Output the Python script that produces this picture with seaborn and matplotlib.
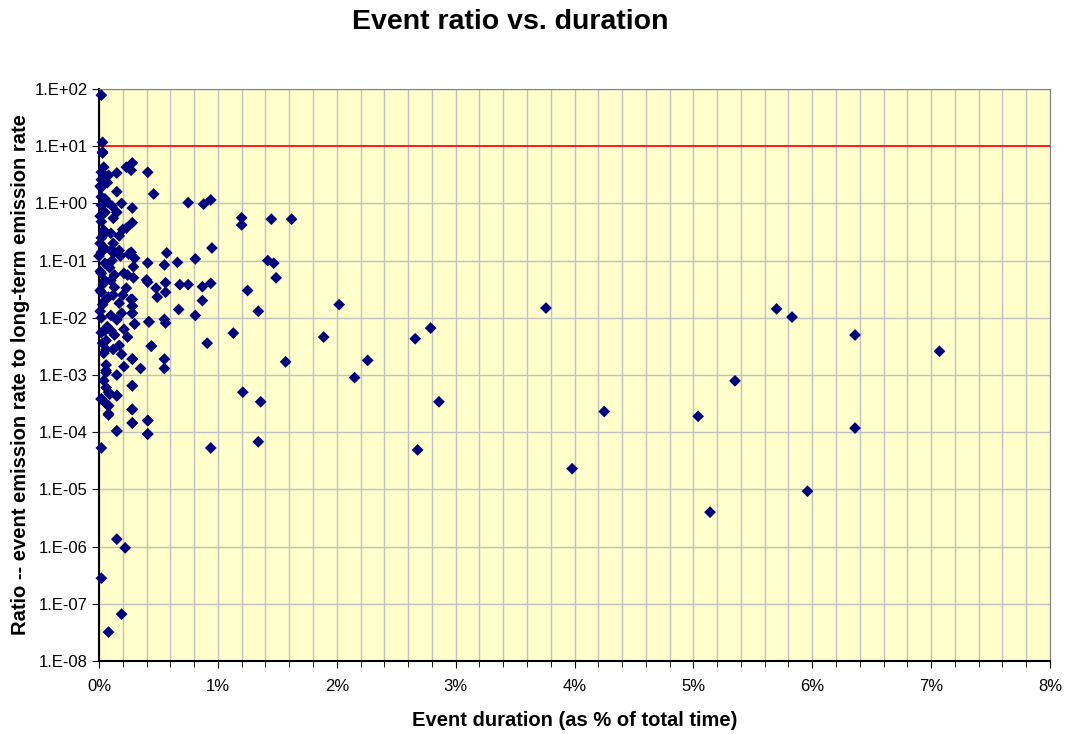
import numpy as np
import pandas as pd
import seaborn as sns
import matplotlib.pyplot as plt
from matplotlib.ticker import FixedLocator, FuncFormatter, MultipleLocator

# Event duration (% of total time) and ratio of event to long-term emission rate
duration_pct = [
    # top outliers
    0.02, 0.03, 0.03, 0.03,
    # dense cluster near zero
    0.28, 0.23, 0.27, 0.04, 0.02, 0.08, 0.15, 0.02, 0.07, 0.02, 0.15, 0.02,
    0.07, 0.02, 0.28, 0.15, 0.04, 0.02, 0.28, 0.23, 0.17, 0.04, 0.02, 0.04,
    0.02, 0.10, 0.17, 0.27, 0.30, 0.00, 0.13, 0.25, 0.29, 0.07, 0.02, 0.13,
    0.24, 0.29, 0.40, 0.48, 0.04, 0.13, 0.23, 0.02, 0.08, 0.27, 0.17, 0.03,
    0.28, 0.10, 0.28, 0.02, 0.15, 0.30, 0.42, 0.07, 0.21, 0.02, 0.13, 0.24,
    0.03, 0.17, 0.44, 0.04, 0.19, 0.28, 0.06, 0.21, 0.15, 0.04, 0.08, 0.15,
    0.02, 0.07, 0.28, 0.08, 0.28, 0.28, 0.41, 0.41, 0.15, 0.09, 0.08, 0.02,
    0.01, 0.05, 0.01, 0.05, 0.01, 0.05, 0.01, 0.05, 0.01, 0.05, 0.01, 0.05,
    0.11, 0.12, 0.10, 0.12, 0.11, 0.09, 0.10, 0.12, 0.06, 0.06, 0.06, 0.06,
    0.19, 0.20, 0.18, 0.21, 0.20, 0.19, 0.10, 0.12, 0.06, 0.05,
    # middle band 0.4% - 2%
    0.41, 0.46, 0.75, 0.88, 0.94, 1.20, 1.20, 1.45, 1.62, 0.95, 0.41, 0.57,
    0.55, 0.66, 0.81, 1.42, 1.47, 1.49, 0.41, 0.56, 0.56, 0.49, 0.68, 0.75,
    0.87, 0.94, 0.87, 0.67, 0.81, 1.25, 1.34, 0.28, 0.28, 0.28, 0.30, 0.42,
    0.55, 0.56, 1.13, 0.91, 0.44, 0.55, 0.55, 0.35, 0.28, 0.28, 1.21, 1.36,
    0.28, 0.28, 0.41, 0.41, 0.15, 0.02, 0.94, 1.34, 0.08, 0.08, 0.02, 0.15,
    # 1.5% - 3%
    2.02, 1.89, 1.57, 2.15, 2.26, 2.66, 2.79, 2.86, 2.68,
    # far right
    3.76, 5.70, 5.83, 6.36, 7.07, 5.35, 4.25, 5.04, 6.36, 3.98, 5.96, 5.14,
    # very low ratios
    0.02, 0.15, 0.22, 0.19, 0.08,
]

ratio = [
    78, 11.7, 7.9, 7.6,
    5.1, 4.3, 3.8, 4.3, 3.5, 3.1, 3.4, 2.6, 2.3, 1.9, 1.6, 1.3,
    1.05, 0.93, 0.83, 0.70, 0.67, 0.48, 0.46, 0.37, 0.27, 0.34, 0.25, 0.17,
    0.14, 0.15, 0.15, 0.14, 0.11, 0.12, 0.14, 0.13, 0.078, 0.083, 0.06, 0.056,
    0.056, 0.05, 0.046, 0.033, 0.04, 0.034, 0.033, 0.028, 0.023, 0.021, 0.018, 0.017,
    0.016, 0.011, 0.012, 0.010, 0.0092, 0.0078, 0.0085, 0.007, 0.0063, 0.0055, 0.005, 0.0046,
    0.0036, 0.0033, 0.0032, 0.0024, 0.0023, 0.0019, 0.0015, 0.0014, 0.001, 0.0008, 0.0005, 0.00043,
    0.00038, 0.0003, 0.00065, 0.0002, 0.00025, 0.000145, 0.00016, 0.000093, 0.000105, 0.00046, 0.00029, 0.00038,
    2.0, 1.2, 0.6, 0.3, 0.2, 0.09, 0.065, 0.045, 0.03, 0.02, 0.013, 0.006,
    0.9, 0.55, 0.3, 0.2, 0.1, 0.075, 0.045, 0.025, 0.004, 0.0028, 0.0012, 0.0006,
    1.0, 0.35, 0.12, 0.06, 0.025, 0.012, 0.006, 0.0028, 0.0011, 0.7,
    3.5, 1.46, 1.03, 0.97, 1.15, 0.56, 0.42, 0.53, 0.53, 0.166, 0.091, 0.136,
    0.084, 0.093, 0.107, 0.10, 0.09, 0.050, 0.042, 0.041, 0.028, 0.023, 0.038, 0.038,
    0.035, 0.040, 0.020, 0.014, 0.011, 0.030, 0.013, 0.021, 0.016, 0.012, 0.0078, 0.0085,
    0.0094, 0.0081, 0.0054, 0.0036, 0.0032, 0.0019, 0.0013, 0.0013, 0.0019, 0.00065, 0.0005, 0.00034,
    0.00025, 0.000145, 0.00016, 0.000093, 0.000105, 0.000053, 0.000053, 0.000068, 0.00021, 0.00029, 0.00038, 0.00044,
    0.017, 0.0046, 0.0017, 0.0009, 0.0018, 0.0043, 0.0066, 0.00034, 0.000049,
    0.0148, 0.0143, 0.0103, 0.005, 0.0026, 0.00079, 0.00023, 0.00019, 0.000118, 0.000023, 0.0000093, 0.0000040,
    2.8e-7, 1.35e-6, 9.5e-7, 6.6e-8, 3.2e-8,
]

threshold = 10

df = pd.DataFrame({'duration': duration_pct, 'ratio': ratio})

plt.rcParams['font.family'] = ['Liberation Sans', 'DejaVu Sans']

fig = plt.figure(figsize=(10.68, 7.34), dpi=100)
ax = fig.add_axes([99 / 1068, 1 - 661 / 734, (1050 - 99) / 1068, (661 - 89) / 734])

ax.set_facecolor('#FFFFCC')
ax.set_yscale('log')
ax.set_xlim(0, 8)
ax.set_ylim(1e-8, 1e2)

# gridlines every 0.2% and every decade
ax.xaxis.set_major_locator(MultipleLocator(1))
ax.xaxis.set_minor_locator(MultipleLocator(0.2))
ax.yaxis.set_major_locator(FixedLocator([10.0 ** e for e in range(-8, 3)]))
ax.yaxis.set_minor_locator(FixedLocator([]))
ax.grid(which='both', axis='x', color='#C0C0C0', linewidth=1)
ax.grid(which='major', axis='y', color='#C0C0C0', linewidth=1)
ax.set_axisbelow(True)

ax.axhline(threshold, color='red', linewidth=1.2, zorder=2)

sns.scatterplot(data=df, x='duration', y='ratio', marker='D', color='#000080',
                s=36, edgecolor='none', ax=ax, zorder=3, clip_on=False)

ax.xaxis.set_major_formatter(FuncFormatter(lambda v, p: f'{v:.0f}%'))
ax.yaxis.set_major_formatter(FuncFormatter(lambda v, p: f'1.E{int(round(np.log10(v))):+03d}'))
ax.tick_params(axis='both', which='major', direction='out', length=5, labelsize=12,
               color='black')
ax.tick_params(axis='y', which='major', pad=3)
ax.tick_params(axis='x', which='major', pad=8)
ax.tick_params(axis='x', which='minor', direction='out', length=4, color='black')

for side in ['top', 'right']:
    ax.spines[side].set_color('#808080')
for side in ['left', 'bottom']:
    ax.spines[side].set_color('black')
    ax.spines[side].set_linewidth(1.5)

ax.set_xlabel('Event duration (as % of total time)', fontsize=14.5, fontweight='bold', labelpad=12)
ax.set_ylabel('Ratio -- event emission rate to long-term emission rate', fontsize=14.5,
              fontweight='bold', labelpad=3)
fig.suptitle('Event ratio vs. duration', x=0.478, y=0.988, fontsize=20.5, fontweight='bold')

plt.savefig('out.png', dpi=100)
